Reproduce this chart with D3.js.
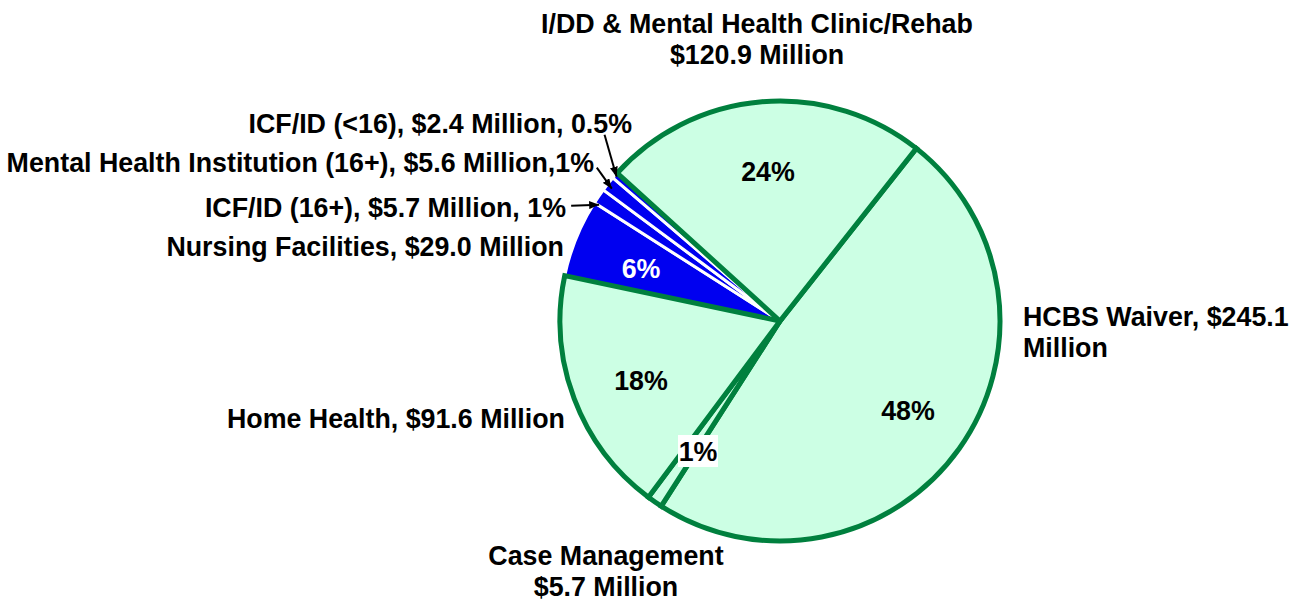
<!DOCTYPE html>
<html>
<head>
<meta charset="utf-8">
<script src="https://cdn.jsdelivr.net/npm/d3@7"></script>
<style>
  body { margin: 0; background: #fff; }
  text { font-family: "Liberation Sans", Arial, sans-serif; font-weight: bold; font-size: 26.8px; fill: #000; }
</style>
</head>
<body>
<svg id="chart" width="1293" height="602"></svg>
<script>
// slices, clockwise from the HCBS / I/DD boundary
const categories = ["HCBS Waiver", "Case Management", "Home Health", "Nursing Facilities",
                    "ICF/ID (16+)", "Mental Health Institution (16+)", "ICF/ID (<16)",
                    "I/DD & Mental Health Clinic/Rehab"]
const values = [245.1, 5.7, 91.6, 29.0, 5.7, 5.6, 2.4, 120.9]   // $ millions
const percents = ["48%", "1%", "18%", "6%", "1%", "1%", "0.5%", "24%"]
const groups = ["green", "green", "green", "blue", "blue", "blue", "blue", "green"]
const labelLines = [
    ["HCBS Waiver, $245.1", "Million"],
    ["Case Management", "$5.7 Million"],
    ["Home Health, $91.6 Million"],
    ["Nursing Facilities, $29.0 Million"],
    ["ICF/ID (16+), $5.7 Million, 1%"],
    ["Mental Health Institution (16+), $5.6 Million,1%"],
    ["ICF/ID (<16), $2.4 Million, 0.5%"],
    ["I/DD & Mental Health Clinic/Rehab", "$120.9 Million"]
]

// layout only
const cx = 780, cy = 321, radius = 220
const startDeg = 38.3
const nameLayout = [
    {x: 1023, y: 326, anchor: "start"},
    {x: 606, y: 565, anchor: "middle"},
    {x: 565, y: 428, anchor: "end"},
    {x: 564, y: 256, anchor: "end"},
    {x: 566, y: 217, anchor: "end"},
    {x: 594, y: 172, anchor: "end"},
    {x: 632, y: 133, anchor: "end"},
    {x: 757, y: 33, anchor: "middle"}
]
const pctLayout = [
    {x: 908, y: 420, show: true},
    {x: 698, y: 461, show: true, box: true},
    {x: 641, y: 390, show: true},
    {x: 641, y: 278, show: true, white: true},
    {show: false}, {show: false}, {show: false},
    {x: 768, y: 181, show: true}
]
// arrows for the thin slices: where along the slice they point (0..1),
// how far out, and the offset of the tail from the tip
const arrowLayout = [null, null, null, null,
    {t: 0.05, r: 215, off: [-28, 1]},
    {t: 0.4, r: 214, off: [-15, -21]},
    {t: 0.5, r: 218, off: [-12, -42]},
    null]

const fillColor = {green: "#ccffe4", blue: "#0000f0"}
const strokeColor = {green: "#00803e", blue: "#ffffff"}
const strokeWidth = {green: 5, blue: 3}

const svg = d3.select("#chart")

svg.append("defs").append("marker")
    .attr("id", "arrowhead")
    .attr("viewBox", "0 0 10 8")
    .attr("refX", 10).attr("refY", 4)
    .attr("markerWidth", 10).attr("markerHeight", 8)
    .attr("markerUnits", "userSpaceOnUse")
    .attr("orient", "auto")
    .append("path")
    .attr("d", "M0,0L10,4L0,8Z")
    .attr("fill", "#000")

const a0 = startDeg * Math.PI / 180
const pie = d3.pie().sort(null).value(d => d).startAngle(a0).endAngle(a0 + 2 * Math.PI)
const arcs = pie(values).map((d, i) => Object.assign(d, {i: i, group: groups[i]}))
const arc = d3.arc().innerRadius(0).outerRadius(radius)

const g = svg.append("g").attr("transform", "translate(" + cx + "," + cy + ")")

// blue slices under the green ones so the green borders stay on top
const ordered = arcs.filter(d => d.group === "blue").concat(arcs.filter(d => d.group === "green"))
g.selectAll("path.slice")
    .data(ordered)
    .join("path")
    .attr("class", "slice")
    .attr("d", arc)
    .attr("fill", d => fillColor[d.group])
    .attr("stroke", d => strokeColor[d.group])
    .attr("stroke-width", d => strokeWidth[d.group])
    .attr("stroke-linejoin", "miter")

// percent labels inside slices
const pctData = arcs.filter(d => pctLayout[d.i].show)
pctData.forEach(d => {
    const p = pctLayout[d.i]
    if (p.box){
        svg.append("rect")
            .attr("x", p.x - 20).attr("y", p.y - 26)
            .attr("width", 40).attr("height", 32)
            .attr("fill", "#fff")
    }
})
svg.selectAll("text.pct")
    .data(pctData)
    .join("text")
    .attr("class", "pct")
    .attr("x", d => pctLayout[d.i].x)
    .attr("y", d => pctLayout[d.i].y)
    .attr("text-anchor", "middle")
    .style("fill", d => pctLayout[d.i].white ? "#fff" : "#000")
    .text(d => percents[d.i])

// category labels
const names = svg.selectAll("text.name")
    .data(arcs)
    .join("text")
    .attr("class", "name")
    .attr("text-anchor", d => nameLayout[d.i].anchor)
    .attr("y", d => nameLayout[d.i].y)

names.selectAll("tspan")
    .data(d => labelLines[d.i].map(t => ({t: t, x: nameLayout[d.i].x})))
    .join("tspan")
    .attr("x", d => d.x)
    .attr("dy", (d, j) => j === 0 ? 0 : 31)
    .text(d => d.t)

arcs.filter(d => arrowLayout[d.i]).forEach(d => {
    const a = arrowLayout[d.i]
    const ang = d.startAngle + (d.endAngle - d.startAngle) * a.t
    const ex = cx + Math.sin(ang) * a.r
    const ey = cy - Math.cos(ang) * a.r
    svg.append("line")
        .attr("x1", ex + a.off[0]).attr("y1", ey + a.off[1])
        .attr("x2", ex).attr("y2", ey)
        .attr("stroke", "#000")
        .attr("stroke-width", 2)
        .attr("marker-end", "url(#arrowhead)")
})
</script>
</body>
</html>
